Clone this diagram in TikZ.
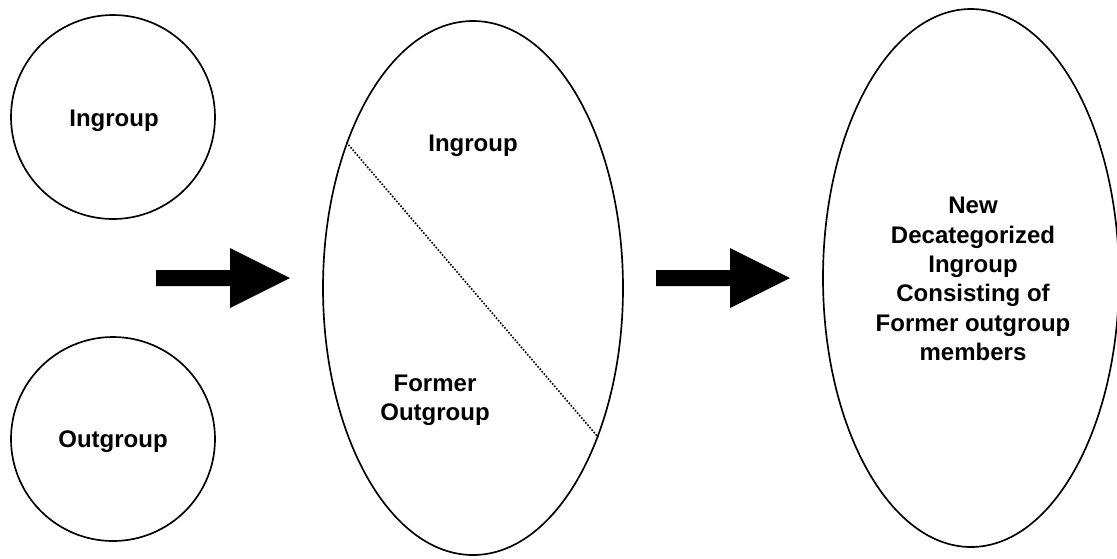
\documentclass[tikz,border=0pt]{standalone}
\usepackage{fontspec}
\setmainfont{Liberation Sans}
\usetikzlibrary{shapes.geometric}
\tikzset{
  outline/.style={draw=black, line width=1.25pt, ellipse, inner sep=0pt},
  lbl/.style={font=\bfseries\fontsize{18}{22}\selectfont, align=center, inner sep=0pt},
  divider/.style={line width=1.2pt, dash pattern=on 1.2pt off 1.2pt},
  blockarrow/.pic={\fill[black] (-134,-8) -- (-60,-8) -- (-60,-30) -- (0,0) -- (-60,30) -- (-60,8) -- (-134,8) -- cycle;}
}
\begin{document}
\begin{tikzpicture}[x=0.75pt, y=-0.75pt]
\useasboundingbox (0,0) rectangle (1117,558);
% left circles
\node[outline, minimum width=153pt, minimum height=153pt] (c1) at (113,117) {};
\node[outline, minimum width=153pt, minimum height=153pt] (c2) at (113,439) {};
\node[lbl] (t1) at (114,121) {Ingroup};
\node[lbl] (t2) at (113,442) {Outgroup};
% first arrow
\pic (a1) at (290,278) {blockarrow};
% middle ellipse
\node[outline, minimum width=225pt, minimum height=400.5pt] (e2) at (473,288) {};
\draw[divider] (e2.131.2) -- (e2.-50.4);
\node[lbl] (t3) at (473,146) {Ingroup};
\node[lbl] (t4) at (435,400) {Former\\Outgroup};
% second arrow
\pic (a2) at (790,278) {blockarrow};
% right ellipse
\node[outline, minimum width=222pt, minimum height=403.5pt] (e3) at (971,278) {};
\node[lbl] (t5) at (973,279) {New\\Decategorized\\Ingroup\\Consisting of\\Former outgroup\\members};
\end{tikzpicture}
\end{document}
